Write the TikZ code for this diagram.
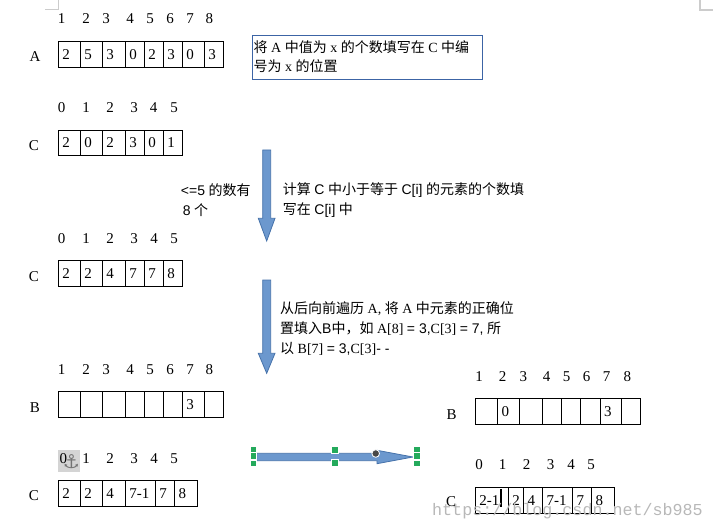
\documentclass[tikz,border=0pt]{standalone}
\usepackage{fontspec}
\setmainfont{Liberation Serif}
\newfontfamily\cjk{Noto Sans CJK SC}
\newfontfamily\lsans{Liberation Sans}
\newfontfamily\lmono{Liberation Mono}
\newfontfamily\dvs{DejaVu Sans}
\definecolor{arrowfill}{RGB}{108,152,206}
\definecolor{arrowline}{RGB}{70,114,170}
\definecolor{boxblue}{RGB}{60,100,165}
\definecolor{handlegreen}{RGB}{36,170,92}
\newcommand\cellrow[3]{%
  \foreach \a/\b/\t in {#3} {
    \draw[cellbox] (\a,#1) rectangle (\b,#2);
    \node[celltext] at (\a+3.8,{(#1+#2)/2}) {\t};
  }}
\newcommand\idxrow[2]{%
  \foreach \x/\t in {#2} {\node[idx] at (\x,#1) {\t};}}
\begin{document}
\begin{tikzpicture}[x=1pt,y=-1pt,
  cellbox/.style={draw=black,line width=0.9pt},
  celltext/.style={anchor=west,inner sep=0pt,font=\fontsize{15}{18}\selectfont},
  idx/.style={inner sep=0pt,font=\fontsize{15}{18}\selectfont},
  lbl/.style={inner sep=0pt,font=\fontsize{15}{18}\selectfont},
  note/.style={anchor=west,inner sep=0pt,align=left,font=\fontsize{14}{19.7}\selectfont},
  bigarrow/.style={fill=arrowfill,draw=arrowline,line width=0.8pt,line join=miter},
  handle/.style={fill=handlegreen,draw=white,line width=0.6pt},
  corner/.style={draw=black!20,line width=1.3pt}]
\useasboundingbox (0,0) rectangle (713,532);
% page corner marks
\draw[corner] (45,9.3) -- (58.3,9.3) -- (58.3,0);
\draw[corner] (700,0) -- (700,10) -- (713,10);

% ---- array A ----
\node[lbl] (labA) at (35,57) {A};
\idxrow{19}{61.7/1,86/2,106/3,130/4,150/5,170/6,190/7,209.3/8}
\cellrow{41.7}{67}{58.3/80.3/2,80.3/102.3/5,102.3/125.3/3,125.3/144.3/0,144.3/163.3/2,163.3/182.3/3,182.3/204.3/0,204.3/223.3/3}

% ---- text box ----
\draw[boxblue,line width=0.9pt] (252.3,35) rectangle (482.3,79.3);
\node[note] (tb) at (253.5,56.7) {{\cjk 将} A {\cjk 中值为} x {\cjk 的个数填写在} C {\cjk 中编}\\{\cjk 号为} x {\cjk 的位置}};

% ---- array C (1) ----
\node[lbl] (labC1) at (34,146) {C};
\idxrow{108}{61.7/0,86/1,110/2,134/3,153.5/4,174/5}
\cellrow{130.3}{155.3}{58.3/80.3/2,80.3/102.3/0,102.3/125.3/2,125.3/144.3/3,144.3/163.3/0,163.3/182.3/1}

% ---- arrow 1 ----
\draw[bigarrow] (262.7,150) -- (270.7,150) -- (270.7,218.3) -- (275,218.3) -- (266.7,241) -- (258.3,218.3) -- (262.7,218.3) -- cycle;
\node[note] (t1l) at (180.7,200.3) {{\lsans <=5} {\cjk 的数有}\\\hspace*{2pt}{\lsans 8} {\cjk 个}};
\node[note] (t1r) at (282.7,200.3) {{\cjk 计算} {\lsans C} {\cjk 中小于等于} {\lsans C[i]} {\cjk 的元素的个数填}\\{\cjk 写在} {\lsans C[i]} {\cjk 中}};

% ---- array C (2) ----
\node[lbl] (labC2) at (34,276.7) {C};
\idxrow{238.3}{61.7/0,86/1,110/2,134/3,154/4,174/5}
\cellrow{260.3}{286.3}{58.3/80.3/2,80.3/102.3/2,102.3/125.3/4,125.3/144.3/7,144.3/163.3/7,163.3/182.3/8}

% ---- arrow 2 ----
\draw[bigarrow] (262.7,280) -- (270.7,280) -- (270.7,353.3) -- (275,353.3) -- (266.7,373.3) -- (258.3,353.3) -- (262.7,353.3) -- cycle;
\node[note] (t2) at (280,328.7) {{\cjk 从后向前遍历} A, {\cjk 将} A {\cjk 中元素的正确位}\\{\cjk 置填入}{\lsans B}{\cjk 中，如} A[8] {\lsans = 3,}C[3] {\lsans = 7,} {\cjk 所}\\{\cjk 以} B[7] {\lsans = 3,}C[3]{\lsans - -}};

% ---- array B (left) ----
\node[lbl] (labB) at (35,408) {B};
\idxrow{370}{61.7/1,86/2,106/3,130/4,150/5,170/6,190/7,209.3/8}
\cellrow{391.3}{417.3}{58.3/80.3/{},80.3/102.3/{},102.3/125.3/{},125.3/144.3/{},144.3/163.3/{},163.3/182.3/{},182.3/204.3/3,204.3/223.3/{}}

% ---- array C (3) ----
\node[lbl] (labC3) at (34,495.7) {C};
\fill[black!17] (58,450) rectangle (80,471.7);
\node[idx] (anc0) at (63.3,459) {0};
\node[inner sep=0pt,font=\fontsize{19}{19}\selectfont\dvs,text=black!55] (anc) at (71.5,461.5) {⚓};
\idxrow{459}{86/1,110/2,134/3,154/4,174/5}
\cellrow{480.3}{506}{58.3/80.3/2,80.3/102.3/2,102.3/125.3/4,125.3/155.3/7-1,155.3/174.7/7,174.7/197.3/8}

% ---- horizontal arrow with selection handles ----
\draw[bigarrow] (256.7,453.3) -- (377,453.3) -- (377,450.3) -- (413,457) -- (377,463.7) -- (377,460.7) -- (256.7,460.7) -- cycle;
\foreach \hx/\hy in {253.3/449.2,253.3/455.8,253.3/463.2,334.7/449.8,334.7/463,416.7/449.2,416.7/455.8,416.7/463.2}
  \filldraw[handle] (\hx-3.4,\hy-3.3) rectangle (\hx+3.4,\hy+3.3);
\filldraw[fill=black!72,draw=white,line width=0.8pt] (375.7,453.5) circle (3.8);

% ---- array B (right) ----
\node[lbl] (labB2) at (451.7,415) {B};
\idxrow{376.7}{479/1,502.7/2,523.3/3,546.7/4,566.7/5,586.7/6,606.7/7,627.3/8}
\cellrow{398.3}{424}{475.3/497.7/{},497.7/519.3/0,519.3/542.7/{},542.7/561.7/{},561.7/580.7/{},580.7/600/{},600/621.7/3,621.7/640.7/{}}

% ---- array C (right) ----
\node[lbl] (labC4) at (451,501.7) {C};
\idxrow{465}{479/0,502.7/1,526.7/2,550.7/3,571/4,591/5}
\cellrow{487}{513.3}{475.3/508.3/2-1,508.3/523.7/2,523.7/542.7/4,542.7/572.7/7-1,572.7/591.7/7,591.7/614.3/8}
\fill[black] (500.2,488.5) rectangle (502.3,506.5);

% ---- watermark ----
\node[anchor=west,inner sep=0pt,font=\fontsize{16.7}{18}\lmono,text=black!28] (wm) at (432,511.5) {https://blog.csdn.net/sb985};
\end{tikzpicture}
\end{document}
